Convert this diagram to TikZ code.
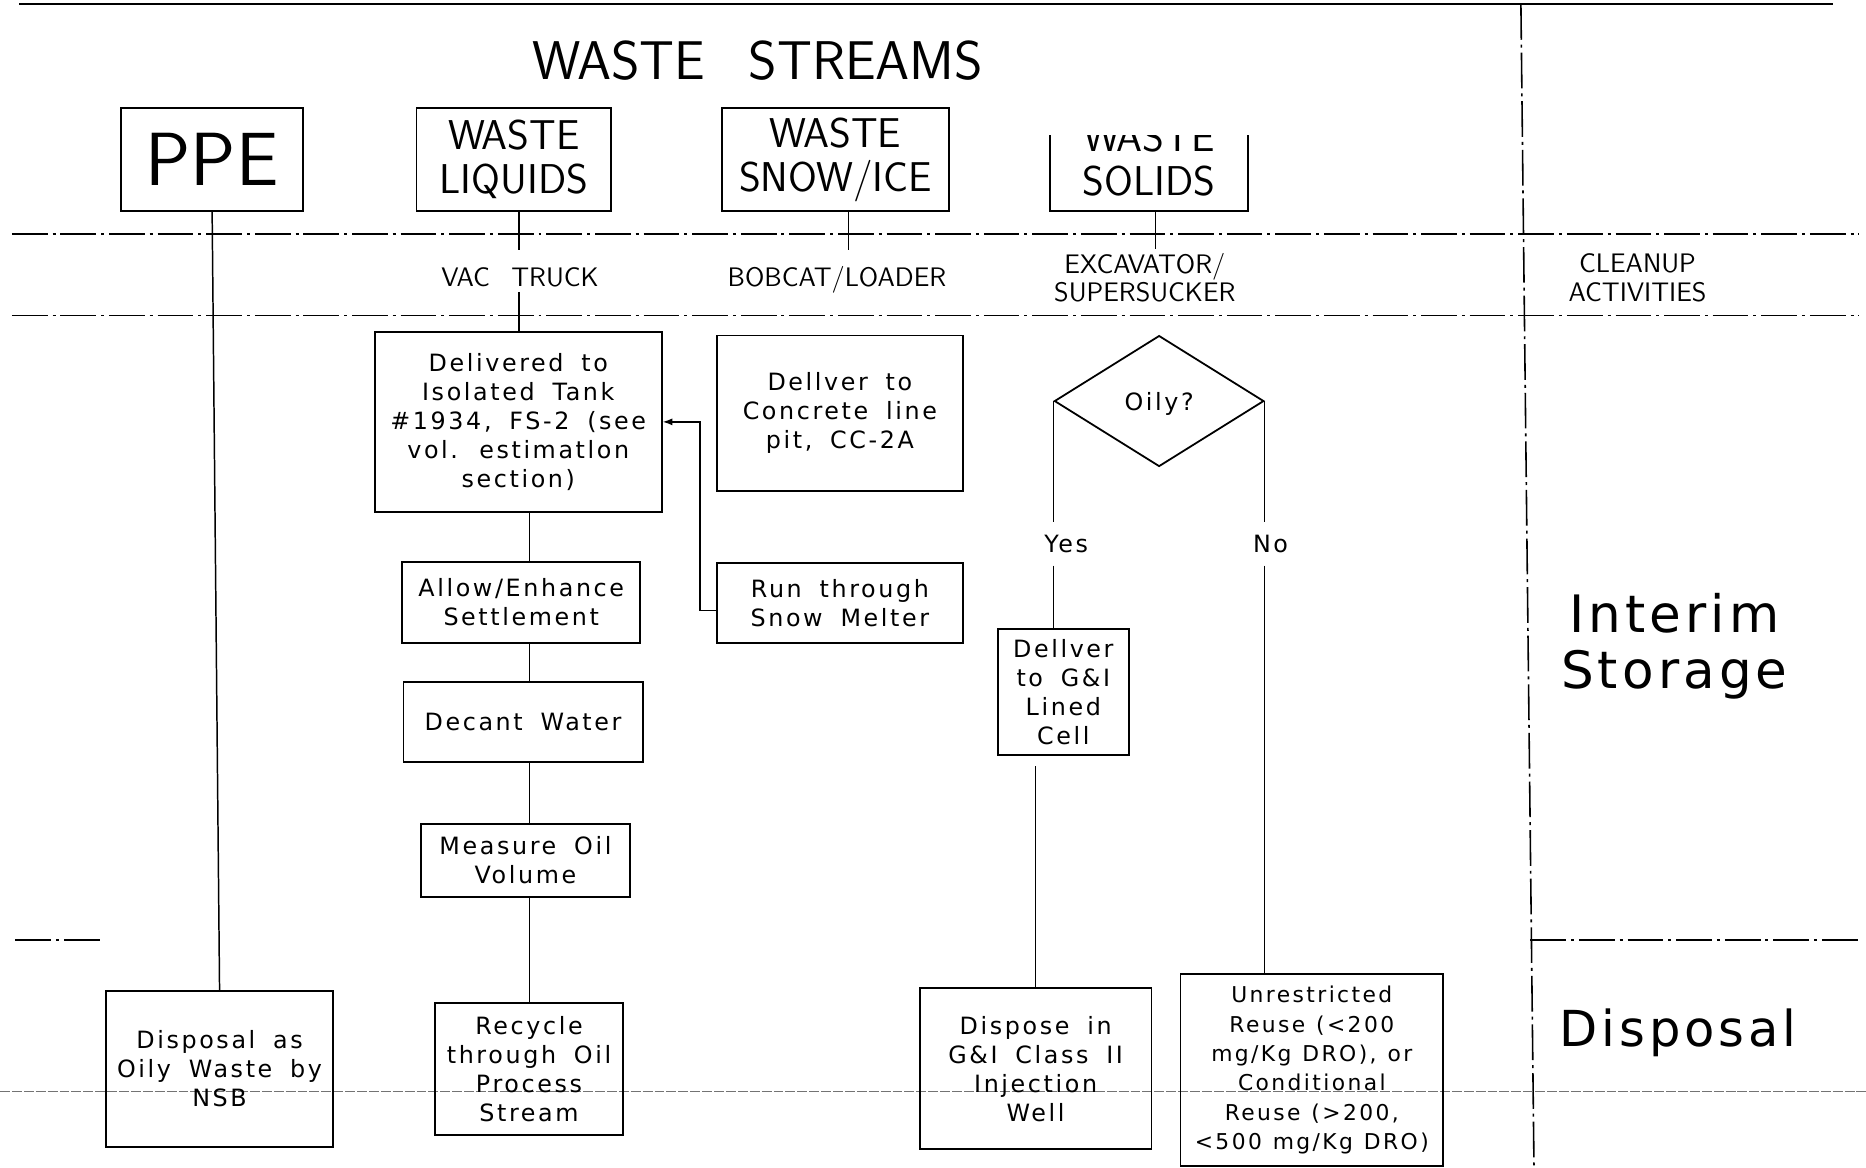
\documentclass[tikz,border=0pt]{standalone}
\usepackage{fontspec}
\newfontfamily\plotfont{DejaVu Sans}[LetterSpace=11]
\newfontfamily\bandfont{DejaVu Sans}[LetterSpace=8]
\usetikzlibrary{shapes.geometric,arrows.meta}

% text styles used in the chart
\newcommand\txtstep{\plotfont\fontsize{12}{14.64}\selectfont\spaceskip=0.75em\relax}
\newcommand\txttight{\plotfont\fontsize{11}{14.8}\selectfont\spaceskip=0.5em\relax}
\newcommand\txthead{\sffamily\fontsize{21}{22.2}\selectfont}
\newcommand\txttag{\sffamily\fontsize{13.5}{14.4}\selectfont\spaceskip=0.8em\relax}
\newcommand\txttitle{\sffamily\fontsize{27.5}{30}\selectfont\spaceskip=0.8em\relax}
\newcommand\txtppe{\sffamily\fontsize{38}{40}\selectfont}
\newcommand\txtzone{\bandfont\fontsize{26}{28.4}\selectfont}
\newcommand\txtdisp{\bandfont\fontsize{25}{28}\selectfont}

\tikzset{
  frameline/.style={line width=0.9pt},
  zoneline/.style={line width=0.8pt, dash pattern=on 18pt off 2.5pt on 1.5pt off 2.5pt},
  scanline/.style={line width=0.35pt, black!55, dash pattern=on 5pt off 1pt},
  headbox/.style={draw, line width=0.9pt, inner sep=0pt, align=center,
    minimum height=51.6pt, font=\txthead},
  stepbox/.style={draw, line width=0.9pt, inner sep=0pt, align=center, font=\txtstep},
  taglabel/.style={inner xsep=0pt, inner ysep=2.4pt, font=\txttag, align=center},
  branch/.style={font=\txtstep, text height=8.75pt, text depth=0pt,
    inner xsep=0pt, inner ysep=6.4pt},
  link/.style={line width=0.75pt},
  flowarrow/.style={line width=0.75pt, -{Latex[length=5pt,width=3.6pt]}}
}

\begin{document}
\begin{tikzpicture}[x=0.6pt, y=-0.6pt]
\useasboundingbox (0,0) rectangle (1568,981);

% ---- frame and zone lines ----
\draw[frameline] (16,3.4) -- (1540,3.4);
\draw[zoneline] (1278,3.4) -- (1289,981);
\draw[zoneline] (10,196.5) -- (1562,196.5);
\draw[zoneline] (10,265) -- (1562,265);
\draw[zoneline] (13,790) -- (87,790);
\draw[zoneline] (1286,790) -- (1562,790);
\draw[scanline] (0,917) -- (1568,917);

% ---- headings ----
\node[anchor=base, font=\txttitle] (title) at (637,67.2) {WASTE STREAMS};

\node[headbox, minimum width=91.5pt, font=\txtppe] (ppe) at (178.25,134) {PPE};
\node[headbox, minimum width=98.1pt] (liq) at (431.75,134) {WASTE\\LIQUIDS};
\node[headbox, minimum width=114.4pt] (snow) at (702,134) {WASTE\\SNOW/ICE};
\begin{scope}
  \clip (870,114) rectangle (1060,190);
  \node[headbox, minimum width=100.2pt] (solids) at (965.5,134) {WASTE\\SOLIDS};
\end{scope}

% ---- cleanup equipment ----
\node[taglabel, anchor=base, text height=9.4pt, text depth=0pt] (vac) at (437,241) {VAC TRUCK};
\node[taglabel, anchor=base, text height=9.4pt, text depth=0pt] (bobcat) at (703.3,241) {BOBCAT/LOADER};
\node[taglabel, anchor=north, inner ysep=2pt] (excav) at (962,209) {EXCAVATOR/\\SUPERSUCKER};
\node[taglabel, anchor=north, inner ysep=2pt] (cleanup) at (1376,209.5) {CLEANUP\\ACTIVITIES};

% ---- zone names ----
\node[font=\txtzone, align=center, inner sep=0pt] (interim) at (1407,543) {Interim\\Storage};
\node[anchor=base, font=\txtdisp, inner sep=0pt] (disposal) at (1410,879.5) {Disposal};

% ---- liquids ----
\node[stepbox, minimum width=144.6pt, minimum height=90.6pt] (deliv) at (435.5,354.5)
  {Delivered to\\Isolated Tank\\\#1934, FS-2 (see\\vol. estimatlon\\section)};
\node[stepbox, minimum width=120pt, minimum height=40.8pt] (allow) at (438,506)
  {Allow/Enhance\\Settlement};
\node[stepbox, minimum width=120.6pt, minimum height=40.2pt] (decant) at (439.5,606.5)
  {Decant Water};
\node[stepbox, minimum width=105.5pt, minimum height=36.7pt] (measure) at (441.5,723)
  {Measure Oil\\Volume};
\node[stepbox, minimum width=94.5pt, minimum height=66.4pt] (recycle) at (444.5,898.3)
  {Recycle\\through Oil\\Process\\Stream};

% ---- snow / ice ----
\node[stepbox, minimum width=123.9pt, minimum height=78.4pt] (concrete) at (705.75,347.3)
  {Dellver to\\Concrete line\\pit, CC-2A};
\node[stepbox, minimum width=123.9pt, minimum height=40.2pt] (run) at (705.75,506.5)
  {Run through\\Snow Melter};

% ---- PPE ----
\node[stepbox, minimum width=114.6pt, minimum height=78.8pt] (oilyw) at (184.5,898.3)
  {Disposal as\\Oily Waste by\\NSB};

% ---- solids ----
\node[diamond, draw, line width=0.9pt, inner sep=0pt, aspect=1.6, text depth=0pt,
  minimum width=105.6pt, minimum height=66pt, font=\txtstep] (oily) at (974,337) {Oily?};
\node[branch] (yes) at (896,457) {Yes};
\node[branch] (no) at (1067.6,457) {No};
\node[stepbox, minimum width=65.9pt, minimum height=63.5pt] (cell) at (893.5,581.6)
  {Dellver\\to G\&I\\Lined\\Cell};
\node[stepbox, minimum width=116.7pt, minimum height=81.1pt] (inject) at (870.25,898.1)
  {Dispose in\\G\&I Class II\\Injection\\Well};
\node[stepbox, minimum width=132.4pt, minimum height=96.7pt, font=\txttight] (unres) at (1102.3,899.25)
  {Unrestricted\\Reuse (<200\\mg/Kg DRO), or\\Conditional\\Reuse (>200,\\<500 mg/Kg DRO)};

% ---- connectors ----
\coordinate (liqx) at (436,0);
\coordinate (snowx) at (713,0);
\coordinate (solx) at (971,0);
\coordinate (chainx) at (445,0);
\coordinate (jogx) at (588,0);

\draw[link] (ppe.south) -- (oilyw.north);

\draw[link, shorten >=6.6pt] (liq.south -| liqx) -- (vac.north -| liqx);
\draw[link] (vac.south -| liqx) -- (deliv.north -| liqx);
\draw[link, shorten >=6.6pt] (snow.south -| snowx) -- (bobcat.north -| snowx);
\draw[link] (solids.south -| solx) -- (excav.north -| solx);

\draw[link] (deliv.south -| chainx) -- (allow.north -| chainx);
\draw[link] (allow.south -| chainx) -- (decant.north -| chainx);
\draw[link] (decant.south -| chainx) -- (measure.north -| chainx);
\draw[link] (measure.south -| chainx) -- (recycle.north -| chainx);

\draw[flowarrow] ([yshift=-3.9pt]run.west) -| (jogx |- deliv.east) -- (deliv.east);

\draw[link] (oily.west) -- (oily.west |- yes.north);
\draw[link] (oily.west |- yes.south) -- (oily.west |- cell.north);
\draw[link] (oily.east) -- (oily.east |- no.north);
\draw[link] (oily.east |- no.south) -- (oily.east |- unres.north);
\draw[link] ([yshift=-5.1pt]cell.south -| inject.north) -- (inject.north);
\end{tikzpicture}
\end{document}
